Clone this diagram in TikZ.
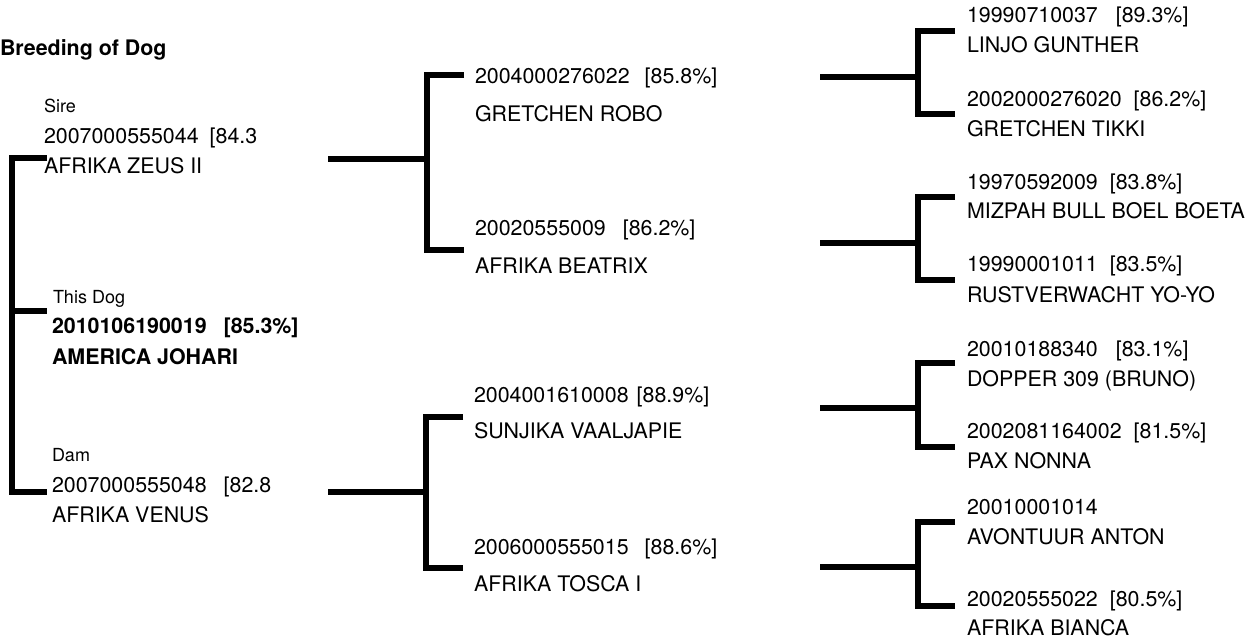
\documentclass[tikz,border=0pt]{standalone}
\usepackage{fontspec}
\setmainfont{TeX Gyre Heros}
\begin{document}
\begin{tikzpicture}[x=1pt,y=-1pt,
  txt/.style={anchor=base west,inner sep=0pt,outer sep=0pt,font=\fontsize{21.4}{24}\selectfont},
  small/.style={anchor=base west,inner sep=0pt,outer sep=0pt,font=\fontsize{18}{20}\selectfont},
  bold/.style={txt,font=\fontsize{21.4}{24}\selectfont\bfseries},
  conn/.style={line width=6pt,line join=miter,line cap=butt}]
\useasboundingbox (0,0) rectangle (1259,639);

% title
\node[bold] (title) at (0,56) {Breeding of Dog};

% column 1
\node[small] (sirelbl) at (44,113) {Sire};
\node[txt] (sireid) at (44,144) {2007000555044\hspace{11pt}[84.3};
\node[txt] (sirename) at (44,174) {AFRIKA ZEUS II};
\node[small] (doglbl) at (53,303) {This Dog};
\node[bold] (dogid) at (52,334) {2010106190019\hspace{17pt}[85.3\%]};
\node[bold] (dogname) at (52,364) {AMERICA JOHARI};
\node[small] (damlbl) at (52,461) {Dam};
\node[txt] (damid) at (52,492) {2007000555048\hspace{17pt}[82.8};
\node[txt] (damname) at (52,522) {AFRIKA VENUS};

% column 2
\node[txt] (ssid) at (475,84) {2004000276022\hspace{15pt}[85.8\%]};
\node[txt] (ssname) at (475,122) {GRETCHEN ROBO};
\node[txt] (sdid) at (475,236) {20020555009\hspace{17pt}[86.2\%]};
\node[txt] (sdname) at (475,273) {AFRIKA BEATRIX};
\node[txt] (dsid) at (474,402) {2004001610008\hspace{8pt}[88.9\%]};
\node[txt] (dsname) at (474,438) {SUNJIKA VAALJAPIE};
\node[txt] (ddid) at (474,554) {2006000555015\hspace{16pt}[88.6\%]};
\node[txt] (ddname) at (474,591) {AFRIKA TOSCA I};

% column 3
\node[txt] (sssid) at (967,23) {19990710037\hspace{18pt}[89.3\%]};
\node[txt] (sssname) at (967,53) {LINJO GUNTHER};
\node[txt] (ssdid) at (967,107) {2002000276020\hspace{12pt}[86.2\%]};
\node[txt] (ssdname) at (967,137) {GRETCHEN TIKKI};
\node[txt] (sdsid) at (967,190) {19970592009\hspace{12pt}[83.8\%]};
\node[txt] (sdsname) at (967,219) {MIZPAH BULL BOEL BOETA};
\node[txt] (sddid) at (967,272) {19990001011\hspace{12pt}[83.5\%]};
\node[txt] (sddname) at (967,302) {RUSTVERWACHT YO-YO};
\node[txt] (dssid) at (967,356) {20010188340\hspace{18pt}[83.1\%]};
\node[txt] (dssname) at (967,386) {DOPPER 309 (BRUNO)};
\node[txt] (dsdid) at (967,438) {2002081164002\hspace{12pt}[81.5\%]};
\node[txt] (dsdname) at (967,468) {PAX NONNA};
\node[txt] (ddsid) at (967,514) {20010001014};
\node[txt] (ddsname) at (967,544) {AVONTUUR ANTON};
\node[txt] (dddid) at (967,606) {20020555022\hspace{12pt}[80.5\%]};
\node[txt] (dddname) at (967,635) {AFRIKA BIANCA};

% brackets
\coordinate (b0t) at (47,158);  \coordinate (b0m) at (47,311);  \coordinate (b0b) at (47,492);
\draw[conn] (b0t) -- (12,158) -- (12,492) -- (b0b);
\draw[conn] (12,311) -- (b0m);

\coordinate (s1) at (328,159); \coordinate (b1t) at (464,75); \coordinate (b1b) at (464,250);
\draw[conn] (b1t) -- (427,75) -- (427,250) -- (b1b);
\draw[conn] (s1) -- (427,159);

\coordinate (s2) at (328,492); \coordinate (b2t) at (463,417); \coordinate (b2b) at (463,568);
\draw[conn] (b2t) -- (426,417) -- (426,568) -- (b2b);
\draw[conn] (s2) -- (426,492);

\foreach \n/\yt/\ym/\yb in {3/31/77/114, 4/197/243/280, 5/363/408/447, 6/522/567/606}{
  \coordinate (s\n) at (820,\ym);
  \coordinate (b\n t) at (955,\yt);
  \coordinate (b\n b) at (955,\yb);
  \draw[conn] (b\n t) -- (918,\yt) -- (918,\yb) -- (b\n b);
  \draw[conn] (s\n) -- (918,\ym);
}
\end{tikzpicture}
\end{document}
